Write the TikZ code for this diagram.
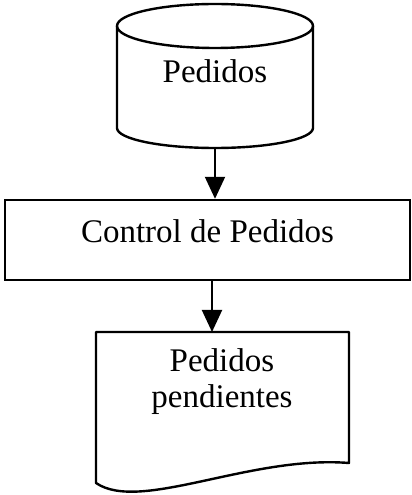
\documentclass[tikz,border=0pt]{standalone}
\usepackage{fontspec}
\setmainfont{Liberation Serif}
\usetikzlibrary{arrows.meta}
\begin{document}
\begin{tikzpicture}[x=1pt,y=1pt,
  shapeline/.style={line width=2.4pt},
  flow/.style={line width=2pt,-{Triangle[length=22pt,width=20pt]}},
  lbl/.style={font=\fontsize{33pt}{36pt}\selectfont,inner sep=0pt},
  procbox/.style={draw,line width=2.4pt,rectangle,minimum width=405pt,minimum height=80pt,
    inner sep=0pt,text height=22pt,text depth=16pt,font=\fontsize{33pt}{36pt}\selectfont}]
\useasboundingbox (0,0) rectangle (412,495);
% cylinder (Pedidos)
\draw[shapeline] (215,469) ellipse[x radius=98,y radius=22];
\draw[shapeline] (117,469) -- (117,367) arc[start angle=180,end angle=360,x radius=98,y radius=20] -- (313,469);
\node[lbl,anchor=base] (db) at (215,412) {Pedidos};
\coordinate (dbB) at (215,347);
% process box
\node[procbox] (ctrl) at (207.5,255) {Control de Pedidos};
% document
\draw[shapeline,line join=round] (96,12) -- (96,163) -- (349,163) -- (349,32)
  .. controls (250,40) and (140,-18) .. (96,12) -- cycle;
\coordinate (docT) at (212,163);
\node[lbl,anchor=base] (doc1) at (222,123) {Pedidos};
\node[lbl,anchor=base] (doc2) at (222,87) {pendientes};
% connectors
\draw[flow] (dbB) -- (dbB |- ctrl.north);
\draw[flow] (docT |- ctrl.south) -- (docT);
\end{tikzpicture}
\end{document}
